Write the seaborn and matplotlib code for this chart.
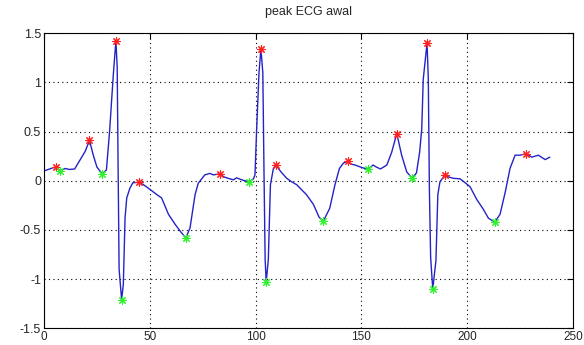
import pandas as pd
import seaborn as sns
import matplotlib.pyplot as plt

# sinyal ECG
ecg_x = [0, 2, 4, 5.5, 7.5, 10, 12, 14.5, 17, 19.5, 21.5, 23.3, 25, 27.5, 29.5,
         31, 32, 33, 34, 34.6, 35, 35.5, 36.7, 37.5, 38.3, 39.1, 40.6, 42, 45,
         47, 49.3, 53.3, 55.6, 58.8, 61.9, 64.3, 67, 69, 71.4, 72.9, 76, 78.4,
         80, 83, 85, 87, 89.5, 91, 93.4, 95, 97, 99, 99.7, 100.5, 101.6, 102.5,
         103.4, 104, 104.5, 105, 106, 107, 108.4, 109.6, 112, 114.7, 117, 119.4,
         121, 124, 127.3, 130, 132, 135, 137.5, 139.6, 141.5, 143.5, 145, 147,
         149.5, 151, 153, 155.5, 157, 159, 162, 164.3, 166.7, 169, 171.4, 174,
         176, 177.5, 178.5, 179.2, 181, 181.6, 182.1, 182.7, 183.7, 185.2, 186.1,
         187.1, 189.5, 191, 193.4, 196.6, 199, 201.3, 204.5, 207.6, 210, 213,
         215.5, 218, 220.2, 222.6, 225, 227.8, 230.5, 233.6, 236.8, 239]
ecg_y = [0.10, 0.115, 0.13, 0.14, 0.10, 0.125, 0.115, 0.12, 0.21, 0.30, 0.41,
         0.26, 0.14, 0.07, 0.11, 0.50, 0.83, 1.15, 1.42, 1.15, 0.2, -0.9, -1.21,
         -1.05, -0.38, -0.175, -0.075, -0.02, -0.015, -0.04, -0.075, -0.14,
         -0.175, -0.34, -0.44, -0.51, -0.58, -0.48, -0.14, -0.025, 0.06, 0.075,
         0.06, 0.07, 0.04, 0.025, 0.01, 0.03, 0.01, 0.0, -0.01, 0.02, 0.06, 0.53,
         1.10, 1.34, 1.10, 0.02, -0.80, -1.03, -0.80, -0.04, 0.125, 0.16, 0.09,
         0.025, -0.01, -0.04, -0.075, -0.14, -0.24, -0.37, -0.41, -0.28, -0.04,
         0.125, 0.18, 0.20, 0.17, 0.16, 0.14, 0.13, 0.115, 0.16, 0.14, 0.12,
         0.16, 0.29, 0.48, 0.26, 0.09, 0.025, 0.08, 0.29, 0.53, 1.03, 1.40, 1.03,
         -0.08, -0.78, -1.10, -0.81, -0.14, -0.01, 0.06, 0.04, 0.025, 0.02,
         -0.02, -0.06, -0.19, -0.29, -0.38, -0.42, -0.34, -0.11, 0.125, 0.26,
         0.26, 0.275, 0.24, 0.26, 0.215, 0.24]

# puncak (merah) dan lembah (hijau)
peak_x = [5.5, 21.5, 34, 45, 83, 102.5, 109.6, 143.5, 166.7, 181, 189.5, 227.8]
peak_y = [0.14, 0.41, 1.42, -0.015, 0.07, 1.34, 0.16, 0.20, 0.48, 1.40, 0.06, 0.275]
valley_x = [7.5, 27.5, 36.7, 67, 97, 105, 132, 153, 174, 183.7, 213]
valley_y = [0.10, 0.07, -1.21, -0.58, -0.01, -1.03, -0.41, 0.115, 0.025, -1.10, -0.42]

x_ticks = [0, 50, 100, 150, 200, 250]
y_ticks = [-1.5, -1, -0.5, 0, 0.5, 1, 1.5]
y_labels = ["-1.5", "-1", "-0.5", "0", "0.5", "1", "1.5"]

sns.set_style("white")
plt.rcParams["font.family"] = ["Liberation Sans", "DejaVu Sans"]
plt.rcParams["axes.unicode_minus"] = False

ecg = pd.DataFrame({"x": ecg_x, "y": ecg_y})
peaks = pd.DataFrame({"x": peak_x, "y": peak_y})
valleys = pd.DataFrame({"x": valley_x, "y": valley_y})

fig = plt.figure(figsize=(5.84, 3.45), dpi=100)
ax = fig.add_axes([0.0753, 0.048, 0.906, 0.856])

sns.lineplot(data=ecg, x="x", y="y", sort=False, color="#2323c8", lw=1.0, ax=ax)
sns.scatterplot(data=peaks, x="x", y="y", marker=(8, 2, 0), s=30,
                color="#ff2020", edgecolor="#ff2020", linewidth=0.8, ax=ax, zorder=3)
sns.scatterplot(data=valleys, x="x", y="y", marker=(8, 2, 0), s=30,
                color="#30f030", edgecolor="#30f030", linewidth=0.8, ax=ax, zorder=3)

ax.set_xlim(0, 250)
ax.set_ylim(-1.5, 1.5)
ax.set_xticks(x_ticks)
ax.set_xticklabels([str(t) for t in x_ticks])
ax.set_yticks(y_ticks)
ax.set_yticklabels(y_labels)
ax.grid(True, color="black", linestyle=(0, (1, 3)), linewidth=0.8)
ax.tick_params(direction="in", length=4, top=True, right=True, labelsize=9,
               color="black", pad=2)
ax.tick_params(axis="x", labelsize=8.5, pad=1.5)
for sp in ax.spines.values():
    sp.set_color("black")
    sp.set_linewidth(0.8)
ax.set_xlabel("")
ax.set_ylabel("")
ax.set_title("peak ECG awal", fontsize=9, pad=13)

fig.savefig("out.png", dpi=100, facecolor="white")
